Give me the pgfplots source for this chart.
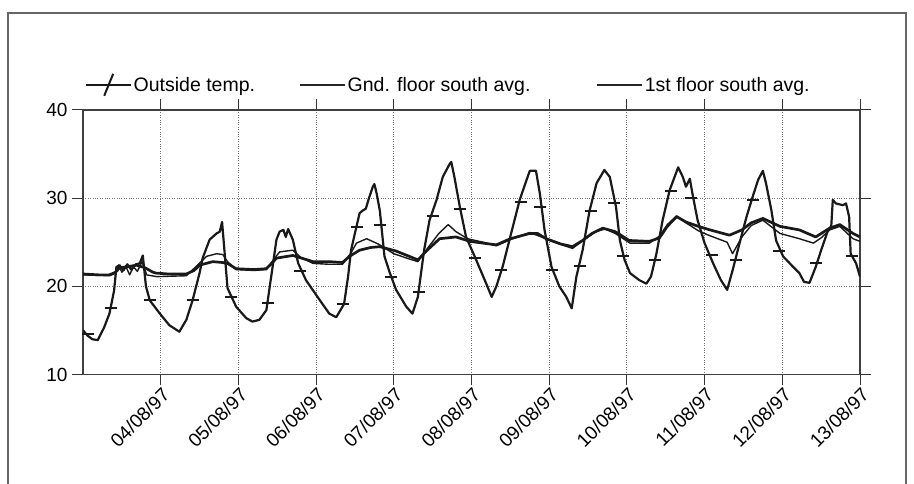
\documentclass[border=0pt]{standalone}
\usepackage{fontspec}
\setmainfont{Liberation Sans}
\usepackage{pgfplots}
\pgfplotsset{compat=1.18}
\begin{document}
\begin{tikzpicture}[x=1pt,y=1pt]
\useasboundingbox (0,0) rectangle (914,484);
\draw[line width=1.5pt, black!60] (8,0) -- (8,471) -- (906,471) -- (906,0);
\begin{axis}[
  at={(83pt,109.5pt)}, anchor=south west,
  width=777pt, height=264.5pt, scale only axis,
  xmin=0, xmax=10, ymin=10, ymax=40,
  xtick={1,2,3,4,5,6,7,8,9,10},
  xticklabels={04/08/97,05/08/97,06/08/97,07/08/97,08/08/97,09/08/97,10/08/97,11/08/97,12/08/97,13/08/97},
  ytick={10,20,30,40},
  yticklabels={10,20,30,40},
  tick label style={font=\fontsize{19}{21}\selectfont},
  tick align=outside, major tick length=11pt,
  tick style={black!80, line width=1pt},
  axis line style={black!75, line width=1.3pt},
  grid=major, grid style={dotted, black!55, line width=0.9pt},
  yticklabel style={font=\fontsize{19}{21}\selectfont, xshift=-1pt},
  xticklabel style={font=\fontsize{19}{21}\selectfont, rotate=45, anchor=east, yshift=-8pt, xshift=3pt},
  legend columns=3,
  legend style={at={(axis description cs:0,1)}, anchor=south west, xshift=2pt, yshift=13pt,
    draw=none, fill=none, inner sep=0pt, font=\fontsize{19.5}{22}\selectfont,
    nodes={inner xsep=1.5pt, inner ysep=2pt},
    /tikz/every even column/.append style={column sep=43pt}},
  legend cell align=left,
  every axis plot/.append style={line join=round},
]
\addplot[black!90, line width=2.2pt,
  legend image code/.code={\draw[black!90, line width=2pt] (0pt,0pt) -- (45pt,0pt); \draw[black!90, line width=2pt] (18pt,-11pt) -- (27pt,11pt);}]
table {
0.00 15.0
0.06 14.4
0.12 14.0
0.19 13.9
0.27 15.3
0.34 16.9
0.40 19.5
0.43 22.2
0.47 22.4
0.52 21.8
0.57 22.5
0.62 21.9
0.68 22.5
0.73 22.6
0.77 23.5
0.81 20.0
0.86 18.4
0.99 16.9
1.11 15.6
1.24 14.85
1.33 16.2
1.41 18.4
1.50 21.5
1.54 23.2
1.63 25.3
1.72 26.0
1.76 26.2
1.79 27.3
1.82 24.1
1.86 19.8
1.97 17.7
2.10 16.4
2.18 16.0
2.27 16.2
2.36 17.3
2.44 22.2
2.49 25.3
2.53 26.2
2.58 26.4
2.61 25.6
2.64 26.5
2.70 25.3
2.77 22.6
2.87 20.7
3.05 18.4
3.17 16.9
3.26 16.5
3.36 18.0
3.41 21.0
3.45 24.1
3.52 26.8
3.56 28.3
3.60 28.6
3.64 28.8
3.68 30.0
3.73 31.3
3.75 31.6
3.78 30.5
3.82 28.6
3.88 23.4
3.95 21.5
4.03 19.6
4.16 17.7
4.24 16.9
4.31 18.8
4.39 24.1
4.46 27.5
4.55 29.8
4.63 32.4
4.72 33.9
4.74 34.1
4.78 32.4
4.85 29.0
4.93 25.6
5.06 23.0
5.19 20.3
5.26 18.8
5.32 20.0
5.40 22.2
5.51 26.0
5.62 29.8
5.71 32.1
5.75 33.1
5.83 33.1
5.88 30.5
5.94 26.4
6.03 22.2
6.13 20.0
6.22 18.8
6.29 17.5
6.35 21.1
6.43 24.1
6.52 28.6
6.61 31.7
6.71 33.2
6.78 32.4
6.86 29.0
6.91 25.2
6.97 23.0
7.04 21.5
7.16 20.7
7.25 20.3
7.31 21.1
7.38 23.7
7.46 27.5
7.55 30.9
7.66 33.5
7.72 32.4
7.76 31.3
7.81 32.2
7.85 30.2
7.91 27.5
8.00 24.9
8.11 22.6
8.21 20.7
8.29 19.6
8.36 21.8
8.45 24.9
8.54 27.9
8.62 30.2
8.69 32.1
8.75 33.1
8.79 31.7
8.86 28.6
8.92 25.2
9.01 23.4
9.14 22.2
9.22 21.5
9.28 20.5
9.35 20.4
9.43 22.2
9.50 24.1
9.59 26.4
9.63 26.8
9.65 29.8
9.69 29.4
9.78 29.2
9.82 29.4
9.86 27.9
9.88 23.7
9.95 22.6
10.0 21.1
};
\addlegendentry{Outside temp.}
\addplot[black!90, line width=1.4pt,
  legend image code/.code={\draw[black!85, line width=1.6pt] (0pt,0pt) -- (45pt,0pt);}]
table {
0.00 21.3
0.34 21.2
0.42 21.5
0.46 22.4
0.50 21.6
0.55 22.3
0.60 21.3
0.65 22.2
0.70 21.7
0.76 22.8
0.82 21.3
0.95 21.1
1.33 21.2
1.45 22.2
1.59 23.4
1.72 23.7
1.80 23.6
1.86 22.8
1.97 21.9
2.20 21.8
2.36 21.9
2.45 23.0
2.53 23.9
2.70 24.1
2.80 23.3
2.96 22.6
3.17 22.5
3.34 22.5
3.45 23.8
3.52 24.9
3.65 25.4
3.80 24.8
4.00 23.7
4.20 23.1
4.31 22.8
4.45 24.5
4.58 26.0
4.70 27.0
4.80 26.2
4.95 25.4
5.15 25.0
5.32 24.6
5.50 25.3
5.75 26.1
5.90 25.6
6.10 24.9
6.30 24.3
6.45 25.3
6.60 26.2
6.72 26.5
6.85 26.0
7.04 24.9
7.29 24.9
7.42 25.7
7.52 27.0
7.64 28.0
7.76 27.2
7.92 26.3
8.05 25.8
8.20 25.3
8.29 25.0
8.36 23.7
8.48 25.6
8.60 26.9
8.75 27.5
8.97 26.0
9.22 25.4
9.40 24.9
9.50 25.5
9.61 26.4
9.74 26.8
9.91 25.4
10.0 25.1
};
\addlegendentry{\makebox[204pt][l]{Gnd. floor south avg.}}
\addplot[black!90, line width=2.7pt,
  legend image code/.code={\draw[black!85, line width=2.2pt] (0pt,0pt) -- (45pt,0pt);}]
table {
0.00 21.4
0.20 21.3
0.34 21.3
0.42 21.6
0.47 22.1
0.55 22.2
0.69 22.4
0.80 22.1
0.90 21.6
0.94 21.5
1.10 21.4
1.33 21.4
1.43 21.8
1.50 22.4
1.67 22.8
1.80 22.7
1.86 22.6
1.97 22.0
2.20 21.9
2.36 22.0
2.44 22.7
2.49 23.2
2.70 23.5
2.85 23.1
2.96 22.8
3.17 22.8
3.34 22.7
3.43 23.4
3.56 24.1
3.70 24.4
3.82 24.5
4.03 24.0
4.20 23.4
4.31 23.0
4.43 24.1
4.59 25.4
4.80 25.6
4.98 25.1
5.15 24.9
5.32 24.7
5.50 25.4
5.75 26.0
5.85 26.0
5.96 25.4
6.15 24.8
6.30 24.5
6.43 25.2
6.55 26.0
6.69 26.6
6.85 26.2
7.03 25.2
7.29 25.1
7.42 25.5
7.52 26.8
7.64 27.9
7.76 27.3
7.92 26.8
8.07 26.4
8.32 25.8
8.48 26.4
8.60 27.2
8.75 27.7
8.97 26.8
9.22 26.4
9.43 25.6
9.61 26.6
9.74 27.0
9.91 26.0
10.0 25.6
};
\addlegendentry{1st floor south avg.}
\addplot[forget plot, only marks, black!90, mark=-, mark size=6pt, mark options={line width=2pt}]
table {
0.06 14.6
0.36 17.5
0.86 18.5
1.41 18.4
1.91 18.8
2.38 18.1
2.79 21.7
3.34 18.0
3.52 26.7
3.82 27.0
3.97 21.1
4.33 19.4
4.50 28.0
4.85 28.8
5.04 23.2
5.38 21.8
5.64 29.6
5.88 29.0
6.03 21.9
6.39 22.3
6.54 28.6
6.84 29.4
6.95 23.4
7.36 23.0
7.57 30.8
7.83 30.0
8.09 23.5
8.41 23.0
8.62 29.8
8.96 24.0
9.44 22.6
9.90 23.4
};
\end{axis}
\end{tikzpicture}
\end{document}
